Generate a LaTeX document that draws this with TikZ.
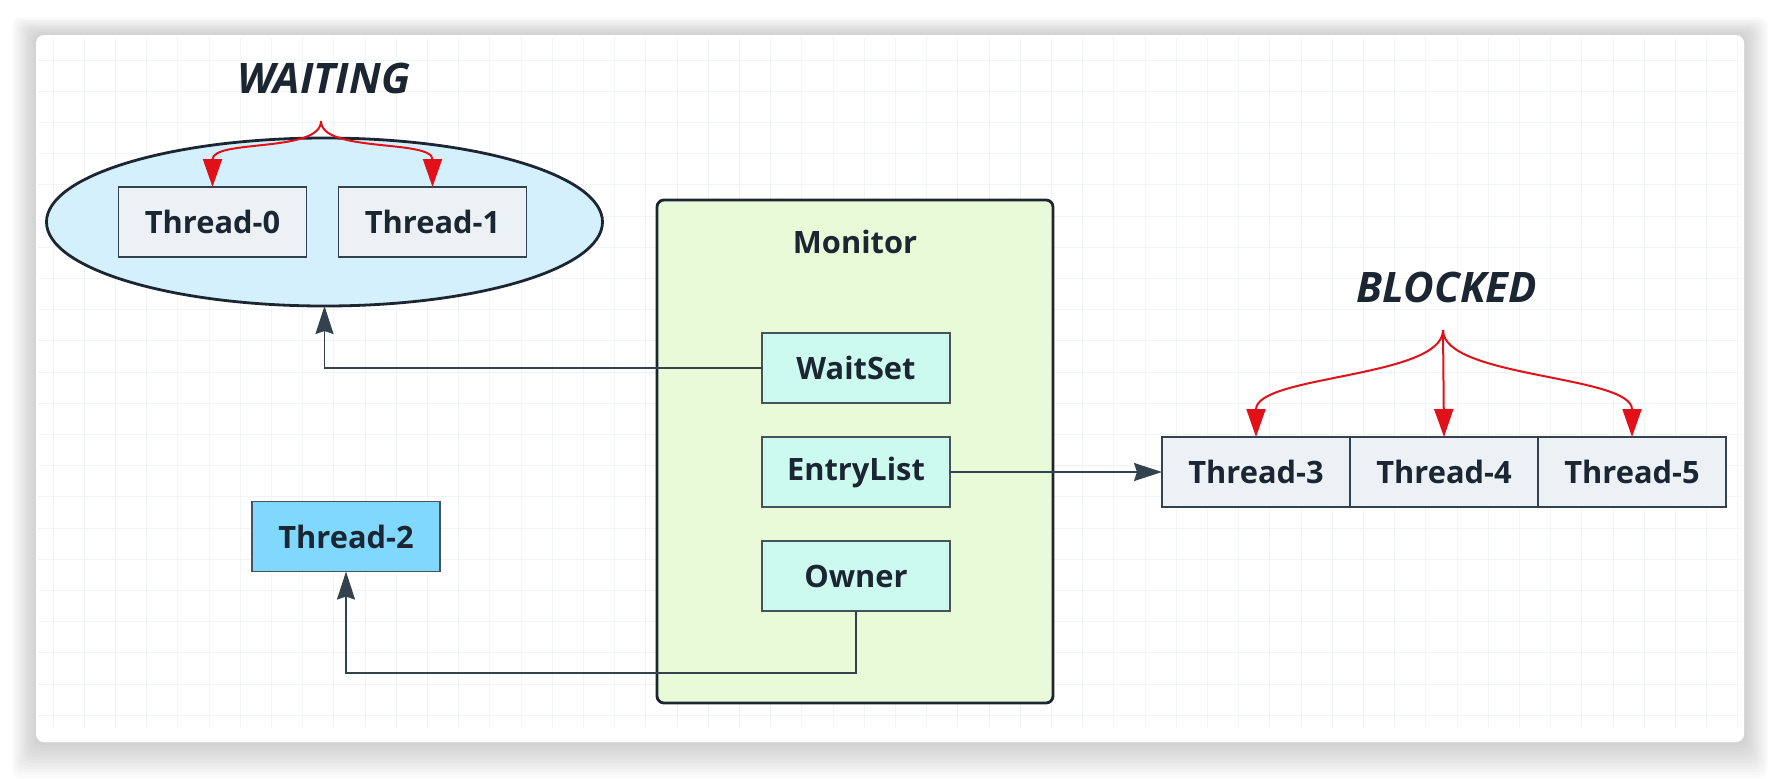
\documentclass[tikz,border=0pt]{standalone}
\usepackage{fontspec}
\setmainfont{Open Sans}
\usetikzlibrary{shapes.geometric, arrows.meta, positioning}

\definecolor{inkc}{RGB}{27,38,50}
\definecolor{linec}{RGB}{52,66,80}
\definecolor{threadc}{RGB}{236,241,245}
\definecolor{poolc}{RGB}{212,240,252}
\definecolor{monc}{RGB}{233,250,216}
\definecolor{slotc}{RGB}{204,250,238}
\definecolor{ownerc}{RGB}{128,216,255}
\definecolor{redc}{RGB}{226,16,24}
\definecolor{gridc}{RGB}{241,245,245}

\newcommand\boxfont{\fontsize{15.4}{18}\selectfont\bfseries}
\newcommand\statefont{\fontsize{21}{24}\selectfont\bfseries\itshape}

\tikzset{
    thread/.style={draw=linec, fill=threadc, line width=0.9pt, minimum width=94pt, minimum height=35pt, inner sep=0pt, outer sep=0pt, font=\boxfont, text=inkc},
    slot/.style={thread, fill=slotc, draw=inkc!80},
    runner/.style={thread, fill=ownerc, draw=inkc!80},
    pool/.style={draw=inkc, fill=poolc, ellipse, line width=1.4pt, minimum width=278pt, minimum height=84pt, inner sep=0pt, outer sep=0pt},
    monitor/.style={draw=inkc, fill=monc, rectangle, rounded corners=3.5pt, line width=1.4pt, minimum width=198pt, minimum height=251.5pt, inner sep=0pt},
    state/.style={font=\statefont, text=inkc, inner sep=0pt},
    title/.style={font=\boxfont, text=inkc, inner sep=0pt},
    link/.style={draw=linec, line width=0.8pt, -{Stealth[length=14pt, width=9pt, inset=1.5pt]}},
    fork/.style={draw=redc, line width=1pt, -{Triangle[length=14pt, width=9.5pt]}},
    gridline/.style={draw=gridc, line width=0.5pt}
}

\begin{document}
\begin{tikzpicture}[x=0.5pt, y=-0.5pt]
        \useasboundingbox (0,0) rectangle (1780,778);

        % -----------------------------------------------------------------
        % CARD AND GRID
        % -----------------------------------------------------------------
        \foreach \s in {1,...,12} {
            \fill[black, opacity=0.014, rounded corners=4pt] ({36-2*\s},{35-1.5*\s}) rectangle ({1744+2*\s},{742+3*\s});
        }
        \fill[white, rounded corners=4pt] (36,35) rectangle (1744,742);
        \foreach \gx in {53,84.2,...,1740} {
            \draw[gridline] (\gx,38) -- (\gx,728);
        }
        \foreach \gy in {60,91.2,...,728} {
            \draw[gridline] (38,\gy) -- (1742,\gy);
        }

        % -----------------------------------------------------------------
        % WAITING
        % -----------------------------------------------------------------
        \node[state] (waiting) at (324,78) {WAITING};
        \node[pool] (waitpool) at (324.5,222) {};
        \node[thread] (t0) at (212.5,222) {Thread-0};
        \node[thread, right=16pt of t0] (t1) {Thread-1};
        \coordinate (wfork) at (321,121);
        \draw[fork] (wfork) .. controls +(0,32) and +(0,-48) .. (t0.north);
        \draw[fork] (wfork) .. controls +(0,32) and +(0,-48) .. (t1.north);

        % -----------------------------------------------------------------
        % MONITOR
        % -----------------------------------------------------------------
        \node[monitor] (mon) at (855,451.5) {};
        \node[title] (montitle) at (855,242) {Monitor};
        \node[slot] (waitset) at (856,368) {WaitSet};
        \node[slot, below=17pt of waitset] (entrylist) {EntryList};
        \node[slot, below=17pt of entrylist] (owner) {Owner};

        % -----------------------------------------------------------------
        % OWNER THREAD
        % -----------------------------------------------------------------
        \node[runner] (t2) at (346,536.5) {Thread-2};

        % -----------------------------------------------------------------
        % BLOCKED
        % -----------------------------------------------------------------
        \node[state] (blocked) at (1447,287) {BLOCKED};
        \node[thread] (t3) at (1256,472) {Thread-3};
        \node[thread, right=0pt of t3] (t4) {Thread-4};
        \node[thread, right=0pt of t4] (t5) {Thread-5};
        \coordinate (bfork) at (1443,330);
        \draw[fork] (bfork) .. controls +(0,48) and +(0,-62) .. (t3.north);
        \draw[fork] (bfork) -- (t4.north);
        \draw[fork] (bfork) .. controls +(0,48) and +(0,-62) .. (t5.north);

        % -----------------------------------------------------------------
        % CONNECTORS
        % -----------------------------------------------------------------
        \draw[link] (waitset.west) -| (waitpool.south);
        \draw[link] (entrylist.east) -- (t3.west);
        \draw[link] (owner.south) -- ++(0,62) -| (t2.south);

    \end{tikzpicture}
\end{document}
